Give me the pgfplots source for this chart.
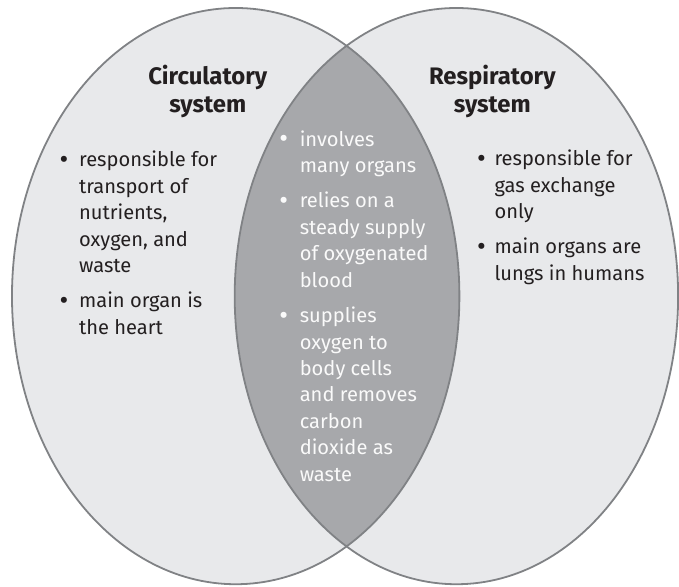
\documentclass[border=0pt]{standalone}
\usepackage{pgfplots}
\pgfplotsset{compat=1.18}
\usepackage{fontspec}
\setmainfont{Fira Sans}
\definecolor{lightfill}{RGB}{232,233,235}
\definecolor{darkfill}{RGB}{167,168,171}
\definecolor{edge}{RGB}{128,130,133}
\definecolor{ink}{RGB}{35,31,32}
\definecolor{inkw}{RGB}{250,250,250}
\newcommand{\bodyfont}{\fontsize{20.2}{26.5}\selectfont}
\newcommand{\titlefont}{\fontsize{24}{28}\selectfont\bfseries}
\newcommand{\bul}{\raisebox{-1.5bp}{\fontsize{27}{27}\selectfont •}}
\begin{document}
\begin{tikzpicture}
\begin{axis}[
  width=679bp, height=587bp, scale only axis,
  xmin=0, xmax=679, ymin=0, ymax=587, y dir=reverse,
  hide axis, clip=false,
]
\path (axis cs:0,0) rectangle (axis cs:679,587);
% ellipses
\fill[lightfill] (axis cs:236,296.5) ellipse [x radius=224bp, y radius=288.5bp];
\fill[lightfill] (axis cs:457,296.5) ellipse [x radius=222bp, y radius=288.5bp];
\begin{scope}
\clip (axis cs:236,296.5) ellipse [x radius=224bp, y radius=288.5bp];
\fill[darkfill] (axis cs:457,296.5) ellipse [x radius=222bp, y radius=288.5bp];
\end{scope}
\draw[edge, line width=1.8bp] (axis cs:236,296.5) ellipse [x radius=224bp, y radius=288.5bp];
\draw[edge, line width=1.8bp] (axis cs:457,296.5) ellipse [x radius=222bp, y radius=288.5bp];
% titles
\node[anchor=base, font=\titlefont, text=ink] at (axis cs:208,85) {Circulatory};
\node[anchor=base, font=\titlefont, text=ink] at (axis cs:208,113) {system};
\node[anchor=base, font=\titlefont, text=ink] at (axis cs:493,85) {Respiratory};
\node[anchor=base, font=\titlefont, text=ink] at (axis cs:493,113) {system};
% left column
\begin{scope}[every node/.style={anchor=base west, font=\bodyfont, text=ink, inner sep=0pt}]
\node[anchor=base] at (axis cs:64,167) {\bul};
\node at (axis cs:79,167) {responsible for};
\node at (axis cs:79,193.5) {transport of};
\node at (axis cs:79,220) {nutrients,};
\node at (axis cs:79,246.5) {oxygen, and};
\node at (axis cs:79,273) {waste};
\node[anchor=base] at (axis cs:64,308) {\bul};
\node at (axis cs:79,308) {main organ is};
\node at (axis cs:79,334.5) {the heart};
% right column
\node[anchor=base] at (axis cs:482,166) {\bul};
\node at (axis cs:495,166) {responsible for};
\node at (axis cs:495,192.5) {gas exchange};
\node at (axis cs:495,219) {only};
\node[anchor=base] at (axis cs:482,254) {\bul};
\node at (axis cs:495,254) {main organs are};
\node at (axis cs:495,280.5) {lungs in humans};
\end{scope}
% middle column
\begin{scope}[every node/.style={anchor=base west, font=\bodyfont, text=inkw, inner sep=0pt}]
\node[anchor=base] at (axis cs:284,146.5) {\bul};
\node at (axis cs:300,146.5) {involves};
\node at (axis cs:300,173) {many organs};
\node[anchor=base] at (axis cs:284,208) {\bul};
\node at (axis cs:300,208) {relies on a};
\node at (axis cs:300,234.5) {steady supply};
\node at (axis cs:300,261) {of oxygenated};
\node at (axis cs:300,287.5) {blood};
\node[anchor=base] at (axis cs:284,323) {\bul};
\node at (axis cs:300,323) {supplies};
\node at (axis cs:300,349.5) {oxygen to};
\node at (axis cs:300,376) {body cells};
\node at (axis cs:300,402.5) {and removes};
\node at (axis cs:300,429) {carbon};
\node at (axis cs:300,455.5) {dioxide as};
\node at (axis cs:300,482) {waste};
\end{scope}
\end{axis}
\end{tikzpicture}
\end{document}
